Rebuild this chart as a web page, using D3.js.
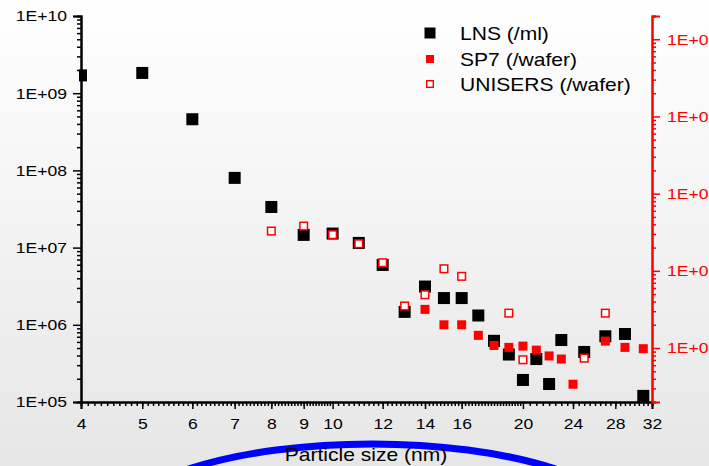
<!DOCTYPE html>
<html><head><meta charset="utf-8">
<script src="https://cdn.jsdelivr.net/npm/d3@7/dist/d3.min.js"></script>
<style>
html,body{margin:0;padding:0;overflow:hidden;}
svg{display:block;font-family:"Liberation Sans",Arial,sans-serif;}
</style></head>
<body>
<svg id="chart" width="709" height="466"></svg>
<script>
// ---- data ----
const xTicks = [4,5,6,7,8,9,10,12,14,16,20,24,28,32];
const xTickLabels = ["4","5","6","7","8","9","10","12","14","16","20","24","28","32"];
const yLeftTicks = [1e5,1e6,1e7,1e8,1e9,1e10];
const yLeftTickLabels = ["1E+05","1E+06","1E+07","1E+08","1E+09","1E+10"];
const yRightTicks = [1e2,1e3,1e4,1e5,1e6];
const yRightTickLabels = ["1E+02","1E+03","1E+04","1E+05","1E+06"];

const lnsSize  = [4,5,6,7,8,9,10,11,12,13,14,15,16,17,18,19,20,21,22,23,25,27,29,31];
const lnsValue = [1.7e9,1.83e9,4.6e8,8.0e7,3.36e7,1.46e7,1.52e7,1.15e7,5.96e6,1.47e6,3.13e6,2.22e6,2.22e6,1.32e6,6.2e5,4.12e5,1.93e5,3.6e5,1.71e5,6.35e5,4.45e5,7.1e5,7.6e5,1.2e5];

const sp7Size  = [14,15,16,17,18,19,20,21,22,23,24,27,29,31];
const sp7Value = [317,200,200,146,108,102,106,94,79,72,34,123,102,98];

const uniSize  = [8,9,10,11,12,13,14,15,16,19,20,25,27];
const uniValue = [3280,3800,2940,2245,1273,350,490,1064,849,283,70.5,74,283];

const legendLabels = ["LNS (/ml)","SP7 (/wafer)","UNISERS (/wafer)"];
const xTitle = "Particle size (nm)";

// ---- layout ----
const W = 709, H = 466;
const L = 81, R = 652, T = 16, B = 402;
const SX = 1.17; // horizontal text stretch of the original

const svg = d3.select("#chart");
const defs = svg.append("defs");
const grad = defs.append("linearGradient").attr("id","bg").attr("x1",0).attr("y1",0).attr("x2",0).attr("y2",1);
grad.append("stop").attr("offset","0%").attr("stop-color","#ffffff");
grad.append("stop").attr("offset","100%").attr("stop-color","#e6e6e6");
svg.append("rect").attr("width",W).attr("height",H).attr("fill","url(#bg)");

defs.append("clipPath").attr("id","plotclip").append("rect")
  .attr("x",79).attr("y",0).attr("width",W-79).attr("height",B+8);

const x = d3.scaleLog().domain([4,32]).range([L,R]);
const yL = d3.scaleLog().domain([1e5,1e10]).range([B,T]);
const yR = d3.scaleLog().domain([20,2e6]).range([B,T]);

function minorLog(dom){
  const out=[];
  for(let e=Math.floor(Math.log10(dom[0]));e<=Math.ceil(Math.log10(dom[1]));e++){
    for(let m=2;m<=9;m++){const v=m*Math.pow(10,e); if(v>=dom[0]&&v<=dom[1]) out.push(v);}
  }
  return out;
}
const xMinor=[];
for(let v=4.1;v<10-1e-6;v+=0.1) xMinor.push(+v.toFixed(2));
for(let v=10.2;v<20-1e-6;v+=0.2) xMinor.push(+v.toFixed(2));
for(let v=20.5;v<32-1e-6;v+=0.5) xMinor.push(+v.toFixed(2));

function stretchText(sel, anchorX){
  sel.each(function(){
    const t=d3.select(this);
    const xx=+t.attr("x")||0, yy=+t.attr("y")||0;
    t.attr("x",0).attr("y",0).attr("transform",`translate(${xx},${yy}) scale(${SX},1)`);
  });
}

// ---- blue ellipse decoration ----
svg.append("ellipse").attr("cx",372).attr("cy",530).attr("rx",260).attr("ry",86)
  .attr("fill","none").attr("stroke","#0000ff").attr("stroke-width",7);

// ---- axes ----
// left
const gLminor = svg.append("g").attr("transform",`translate(${L},0)`)
  .call(d3.axisLeft(yL).tickValues(minorLog([1e5,1e10])).tickSize(4).tickFormat(""));
const gL = svg.append("g").attr("transform",`translate(${L},0)`)
  .call(d3.axisLeft(yL).tickValues(yLeftTicks).tickSize(8).tickPadding(6)
    .tickFormat((d,i)=>yLeftTickLabels[i]));
// bottom
const gBminor = svg.append("g").attr("transform",`translate(0,${B})`)
  .call(d3.axisBottom(x).tickValues(xMinor).tickSize(4).tickFormat(""));
const gB = svg.append("g").attr("transform",`translate(0,${B})`)
  .call(d3.axisBottom(x).tickValues(xTicks).tickSize(7).tickPadding(9)
    .tickFormat((d,i)=>xTickLabels[i]));
// right
const gRminor = svg.append("g").attr("transform",`translate(${R},0)`)
  .call(d3.axisRight(yR).tickValues(minorLog([20,2e6])).tickSize(4).tickFormat(""));
const gR = svg.append("g").attr("transform",`translate(${R},0)`)
  .call(d3.axisRight(yR).tickValues(yRightTicks).tickSize(8).tickPadding(7)
    .tickFormat((d,i)=>yRightTickLabels[i]));

[gLminor,gL,gBminor,gB].forEach(g=>{
  g.selectAll("path.domain").attr("stroke","#000").attr("stroke-width",2);
  g.selectAll("line").attr("stroke","#000").attr("stroke-width",1.5);
});
[gRminor,gR].forEach(g=>{
  g.selectAll("path.domain").attr("stroke","#ff0000").attr("stroke-width",2);
  g.selectAll("line").attr("stroke","#ff0000").attr("stroke-width",1.5);
});
[gL,gB,gR].forEach(g=>{
  g.attr("font-family",null).attr("font-size",null);
  g.selectAll("text").attr("font-size",15).attr("fill","#000");
});
gR.selectAll("text").attr("fill","#ff0000");
gL.selectAll("text").call(stretchText);
gB.selectAll("text").call(stretchText);
gR.selectAll("text").call(stretchText);

// ---- x title ----
svg.append("text").attr("transform",`translate(366,461) scale(${SX},1)`)
  .attr("text-anchor","middle").attr("font-size",18).attr("fill","#000").text(xTitle);

// ---- data marks ----
const plot = svg.append("g").attr("clip-path","url(#plotclip)");
const lnsData = lnsSize.map((s,i)=>({s,v:lnsValue[i]}));
const sp7Data = sp7Size.map((s,i)=>({s,v:sp7Value[i]}));
const uniData = uniSize.map((s,i)=>({s,v:uniValue[i]}));

const sLNS=12, sSP7=9, sUNI=7.6;
plot.selectAll("rect.lns").data(lnsData).join("rect").attr("class","lns")
  .attr("x",d=>x(d.s)-sLNS/2).attr("y",d=>yL(d.v)-sLNS/2)
  .attr("width",sLNS).attr("height",sLNS).attr("fill","#000");
plot.selectAll("rect.sp7").data(sp7Data).join("rect").attr("class","sp7")
  .attr("x",d=>x(d.s)-sSP7/2).attr("y",d=>yR(d.v)-sSP7/2)
  .attr("width",sSP7).attr("height",sSP7).attr("fill","#ff0000");
plot.selectAll("rect.uni").data(uniData).join("rect").attr("class","uni")
  .attr("x",d=>x(d.s)-sUNI/2).attr("y",d=>yR(d.v)-sUNI/2)
  .attr("width",sUNI).attr("height",sUNI).attr("fill","#ffffff")
  .attr("stroke","#ff0000").attr("stroke-width",1.5);

// ---- legend ----
const lg = svg.append("g");
const rows=[33,59,84];
lg.append("rect").attr("x",430-5.5).attr("y",rows[0]-5.5).attr("width",11).attr("height",11).attr("fill","#000");
lg.append("rect").attr("x",430-4).attr("y",rows[1]-4).attr("width",8).attr("height",8).attr("fill","#ff0000");
lg.append("rect").attr("x",430-3.3).attr("y",rows[2]-3.3).attr("width",6.6).attr("height",6.6)
  .attr("fill","#fff").attr("stroke","#ff0000").attr("stroke-width",1.4);
legendLabels.forEach((t,i)=>{
  lg.append("text").attr("transform",`translate(460,${rows[i]+6.5}) scale(${SX},1)`)
    .attr("font-size",18).attr("fill","#000").text(t);
});
</script>
</body></html>
